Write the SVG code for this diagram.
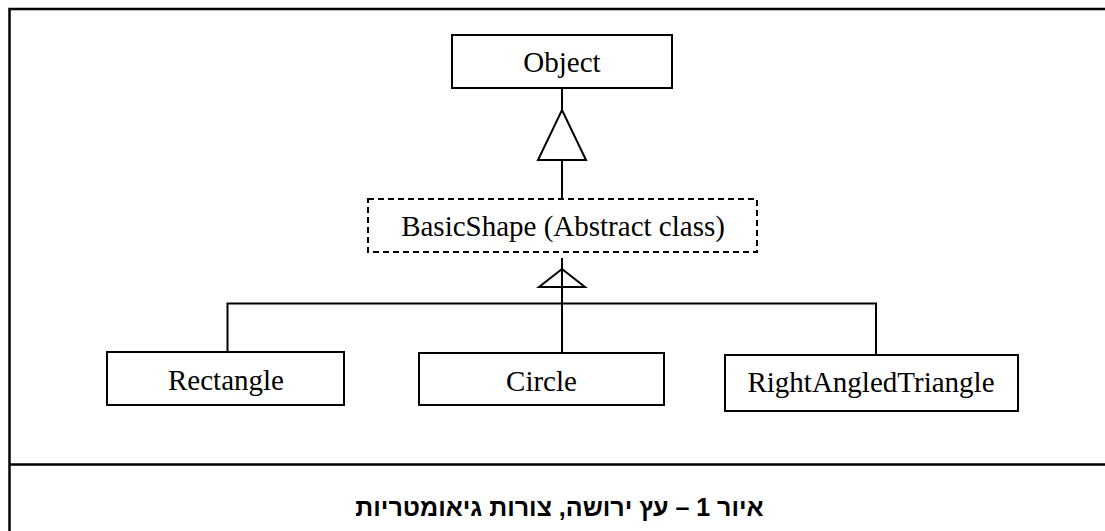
<svg xmlns="http://www.w3.org/2000/svg" width="1105" height="531" viewBox="0 0 1105 531">
  <style>
    .box { fill: #ffffff; stroke: #000000; stroke-width: 2; }
    .abstract { fill: #ffffff; stroke: #000000; stroke-width: 2; stroke-dasharray: 6 4; }
    .label { font-family: "Liberation Serif", "Times New Roman", serif; font-size: 29px; fill: #000000; text-anchor: middle; }
    .wire { fill: none; stroke: #000000; stroke-width: 2; }
    .frame { fill: none; stroke: #000000; stroke-width: 2.5; }
    .caption { font-family: "Liberation Sans", "DejaVu Sans", sans-serif; font-size: 25px; font-weight: bold; fill: #000000; text-anchor: middle; }
  </style>
  <rect x="0" y="0" width="1105" height="531" fill="#ffffff"/>

  <!-- outer frame and caption divider -->
  <g id="frame">
    <path class="frame" d="M9.5 531 V9 H1105"/>
    <path class="frame" d="M9.5 464.5 H1105"/>
  </g>

  <!-- inheritance connectors -->
  <g id="connectors">
    <path class="wire" d="M562 88 V110"/>
    <polygon class="wire" points="562,110 586,160 538,160"/>
    <path class="wire" d="M562 160 V199"/>
    <path class="wire" d="M562 258 V353"/>
    <polygon class="wire" points="562,269 585,287 539,287"/>
    <path class="wire" d="M227.5 352 V303.5 H876 V355"/>
  </g>

  <g id="object">
    <rect class="box" x="452" y="35" width="220" height="53"/>
    <text class="label" x="562" y="72">Object</text>
  </g>

  <g id="basicshape">
    <rect class="abstract" x="368" y="199" width="389" height="53"/>
    <text class="label" x="563" y="236">BasicShape (Abstract class)</text>
  </g>

  <g id="rectangle">
    <rect class="box" x="107" y="352" width="237" height="53"/>
    <text class="label" x="226" y="390">Rectangle</text>
  </g>

  <g id="circle">
    <rect class="box" x="419" y="353" width="245" height="52"/>
    <text class="label" x="541.5" y="391">Circle</text>
  </g>

  <g id="rightangledtriangle">
    <rect class="box" x="725" y="355" width="293" height="56"/>
    <text class="label" x="871" y="392">RightAngledTriangle</text>
  </g>

  <g id="caption">
    <text class="caption" x="559.5" y="516" direction="rtl">איור 1 – עץ ירושה, צורות גיאומטריות</text>
  </g>
</svg>
